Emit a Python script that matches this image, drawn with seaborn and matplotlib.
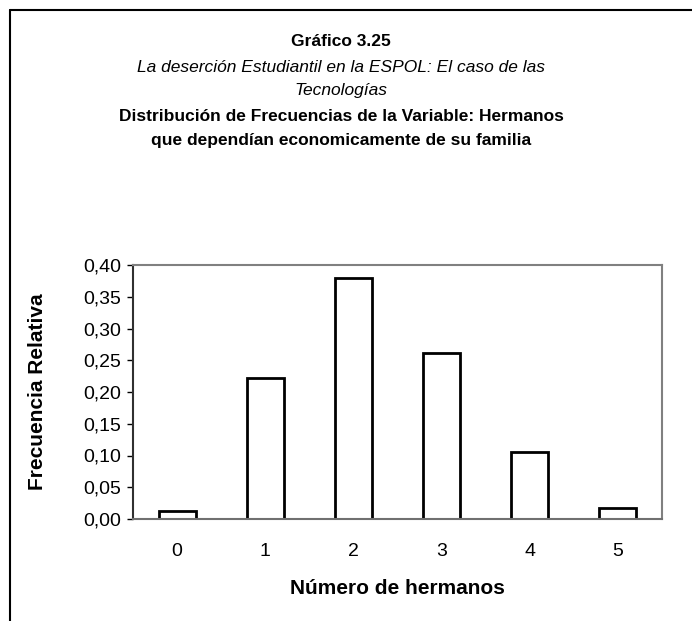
import numpy as np
import pandas as pd
import matplotlib
matplotlib.use('Agg')
import matplotlib.pyplot as plt
import seaborn as sns
from matplotlib.lines import Line2D

# data
hermanos = ['0', '1', '2', '3', '4', '5']
frecuencia = [0.012, 0.222, 0.380, 0.262, 0.106, 0.018]
y_ticks = [0.00, 0.05, 0.10, 0.15, 0.20, 0.25, 0.30, 0.35, 0.40]

df = pd.DataFrame({'hermanos': hermanos, 'frecuencia': frecuencia})

sns.set_style('white')
plt.rcParams['font.family'] = ['Liberation Sans', 'DejaVu Sans']
plt.rcParams['text.color'] = 'black'
plt.rcParams['axes.labelcolor'] = 'black'
plt.rcParams['xtick.color'] = 'black'
plt.rcParams['ytick.color'] = 'black'

fig = plt.figure(figsize=(6.92, 6.21), dpi=100)
ax = fig.add_axes([133 / 692, 1 - 519 / 621, (662 - 133) / 692, (519 - 265) / 621])

sns.barplot(data=df, x='hermanos', y='frecuencia', color='white',
            edgecolor='black', linewidth=2, width=0.42, ax=ax)

ax.set_xlim(-0.5, 5.5)
ax.set_ylim(0, 0.40)
ax.set_yticks(y_ticks)
ax.set_yticklabels([f'{v:.2f}'.replace('.', ',') for v in y_ticks], fontsize=14)
ax.set_xticks(range(len(hermanos)))
ax.set_xticklabels(hermanos, fontsize=14)
ax.set_xticks(np.arange(-0.5, 6, 1), minor=True)
ax.tick_params(axis='x', which='major', length=0, pad=17)
ax.tick_params(axis='x', which='minor', length=4.5, width=1, color='black', direction='out')
ax.tick_params(axis='y', length=4.5, width=1, color='black', direction='out', left=True, pad=4)

for side in ['top', 'right']:
    ax.spines[side].set_color('#808080')
    ax.spines[side].set_linewidth(1.5)
ax.spines['left'].set_color('#303030')
ax.spines['left'].set_linewidth(1.5)
ax.spines['bottom'].set_color('#707070')
ax.spines['bottom'].set_linewidth(1.5)

ax.set_xlabel('Número de hermanos', fontsize=15, fontweight='bold', va='center')
ax.xaxis.set_label_coords(0.5, (519 - 588) / 254)
ax.set_ylabel('Frecuencia Relativa', fontsize=15, fontweight='bold', va='center')
ax.yaxis.set_label_coords((38 - 133) / 529, 0.5)

# titles
cx = 341 / 692
fs = 12.5
fig.text(cx, 1 - 42 / 621, 'Gráfico 3.25', ha='center', va='center', fontsize=fs, fontweight='bold')
fig.text(cx, 1 - 67 / 621, 'La deserción Estudiantil en la ESPOL: El caso de las',
         ha='center', va='center', fontsize=fs, style='italic')
fig.text(cx, 1 - 91 / 621, 'Tecnologías', ha='center', va='center', fontsize=fs, style='italic')
fig.text(cx, 1 - 117 / 621, 'Distribución de Frecuencias de la Variable: Hermanos',
         ha='center', va='center', fontsize=fs, fontweight='bold')
fig.text(cx, 1 - 141 / 621, 'que dependían economicamente de su familia',
         ha='center', va='center', fontsize=fs, fontweight='bold')

# outer frame (top and left edges only visible)
fig.add_artist(Line2D([10 / 692, 1], [1 - 10 / 621, 1 - 10 / 621], color='black', linewidth=1.5))
fig.add_artist(Line2D([10 / 692, 10 / 692], [0, 1 - 10 / 621], color='black', linewidth=1.5))

fig.savefig('out.png', dpi=100)
